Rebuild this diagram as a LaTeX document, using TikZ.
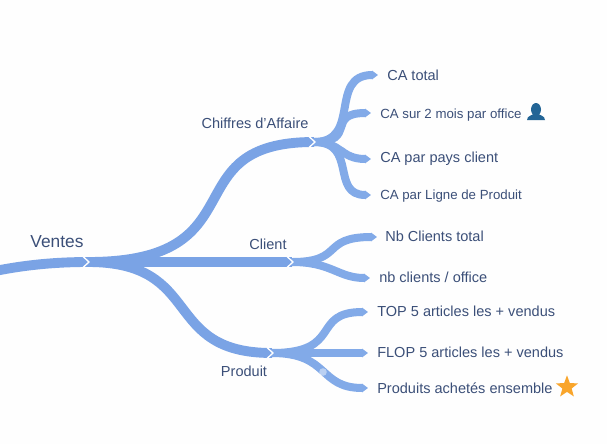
\documentclass[tikz,border=0pt]{standalone}
\usepackage{fontspec}
\setmainfont{Liberation Sans}
\usepackage{xcolor}
\usetikzlibrary{arrows.meta, shapes.geometric}
\definecolor{branchblue}{HTML}{7AA3E5}
\definecolor{twigblue}{HTML}{82AAE8}
\definecolor{labelblue}{HTML}{3B4F78}
\definecolor{personblue}{HTML}{236596}
\definecolor{starorange}{HTML}{F9A52B}
\tikzset{
  branch/.style={line width=7.4pt, branchblue},
  twig/.style={line width=6pt, twigblue, -{Triangle[length=4.5pt,width=6.4pt]}},
  chevron/.style={line width=1pt, white},
  label/.style={text=labelblue, font=\fontsize{10.9}{12}\selectfont, inner sep=0pt},
  leaf/.style={label, anchor=west},
  smallleaf/.style={leaf, font=\fontsize{9.95}{12}\selectfont},
}

\begin{document}
\begin{tikzpicture}[x=0.75pt, y=-0.75pt]
  \useasboundingbox[fill=white!99!gray] (0,0) rectangle (607,444);

  \coordinate (start) at (-5,271);
  \coordinate (root) at (88,262);
  \coordinate (chiffres) at (314,142);
  \coordinate (client) at (292,262);
  \coordinate (produit) at (272,353);

  \node[label, font=\fontsize{13}{14}\selectfont] (ventes) at (57,242) {Ventes};
  \node[label] (chiffreslabel) at (255,123) {Chiffres d'Affaire};
  \node[label] (clientlabel) at (268,244) {Client};
  \node[label] (produitlabel) at (244,371) {Produit};

  \node[leaf] (catotal) at (387,75) {CA total};
  \node[smallleaf] (camois) at (380,115) {CA sur 2 mois par office};
  \node[leaf] (capays) at (380,159) {CA par pays client};
  \node[smallleaf] (caligne) at (380,196) {CA par Ligne de Produit};
  \node[leaf] (nbtotal) at (385,236) {Nb Clients total};
  \node[leaf] (nboffice) at (379,277) {nb clients / office};
  \node[leaf] (top) at (377,311) {TOP 5 articles les + vendus};
  \node[leaf] (flop) at (377,352) {FLOP 5 articles les + vendus};
  \node[leaf] (achetes) at (377,388.5) {Produits achetés ensemble};

  % free ends of the twigs
  \coordinate (catotalend) at (378,75);
  \coordinate (camoisend) at (371,113);
  \coordinate (capaysend) at (371,159);
  \coordinate (caligneend) at (371,195);
  \coordinate (nbtotalend) at (377,237);
  \coordinate (nbofficeend) at (370,278);
  \coordinate (topend) at (368,312);
  \coordinate (flopend) at (368,353);
  \coordinate (achetesend) at (368,388);

  % main branches
  \draw[branch] (start) .. controls (25,265) and (55,262) .. (root);
  \draw[branch] (root) .. controls (262,262) and (170,142) .. (chiffres);
  \draw[branch] (root) -- (client);
  \draw[branch] (root) .. controls (205,262) and (160,353) .. (produit);

  % twigs
  \draw[twig] (chiffres) .. controls (362,142) and (328,75) .. (catotalend);
  \draw[twig] (chiffres) .. controls (358,142) and (325,113) .. (camoisend);
  \draw[twig] (chiffres) .. controls (342,142) and (340,159) .. (capaysend);
  \draw[twig] (chiffres) .. controls (358,142) and (330,195) .. (caligneend);
  \draw[twig] (client) .. controls (345,262) and (320,237) .. (nbtotalend);
  \draw[twig] (client) .. controls (332,262) and (338,278) .. (nbofficeend);
  \draw[twig] (produit) .. controls (344,353) and (310,312) .. (topend);
  \draw[twig] (produit) -- (flopend);
  \draw[twig] (produit) .. controls (330,353) and (318,388) .. (achetesend);

  \foreach \hub in {root, chiffres, client, produit}{
    \draw[chevron, shift={(\hub)}] (-5,-5.5) -- (1,0) -- (-5,5.5);
  }

  \fill[white, opacity=0.45] (323,372) circle[radius=3.8];

  % person
  \fill[personblue] (536,109.5) ellipse[x radius=5, y radius=6.5];
  \fill[personblue] (527,120) .. controls (527,115) and (533,116) .. (534,113) -- (538,113)
     .. controls (539,116) and (545,115) .. (545,120) -- cycle;

  % star
  \node[star, star points=5, star point ratio=2.4, fill=starorange, minimum size=17.5pt, inner sep=0pt] (staricon) at (567,387) {};
\end{tikzpicture}
\end{document}
